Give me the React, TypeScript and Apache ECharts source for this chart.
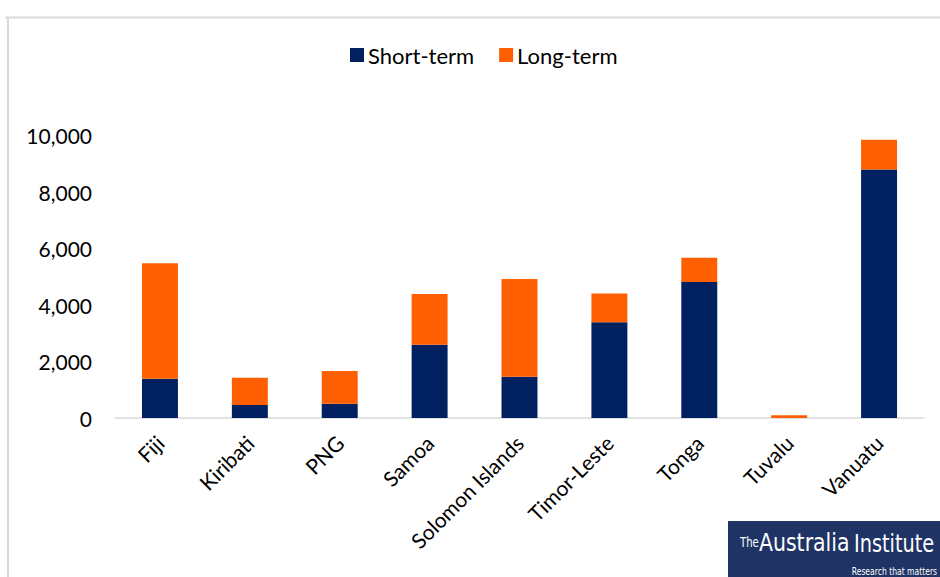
import React, { useEffect, useRef } from "react";
import * as echarts from "echarts";

const countries = ["Fiji", "Kiribati", "PNG", "Samoa", "Solomon Islands", "Timor-Leste", "Tonga", "Tuvalu", "Vanuatu"];
const shortTerm = [1390, 460, 505, 2590, 1460, 3390, 4810, 0, 8800];
const longTerm = [4090, 965, 1155, 1800, 3460, 1015, 860, 95, 1050];
const yTicks = [0, 2000, 4000, 6000, 8000, 10000];

const FONT = "Lato, 'Noto Sans', sans-serif";
const LOGO_FONT = "'DejaVu Sans Condensed', 'Liberation Sans Narrow', sans-serif";
const NAVY = "#002060";
const ORANGE = "#FF5F00";

export default function App() {
  const ref = useRef<HTMLDivElement>(null);

  useEffect(() => {
    if (!ref.current) return;
    const chart = echarts.init(ref.current, null, { renderer: "svg" });
    chart.setOption({
      animation: false,
      backgroundColor: "#ffffff",
      legend: {
        top: 39,
        left: 345,
        itemWidth: 14,
        itemHeight: 14,
        itemGap: 25,
        icon: "rect",
        textStyle: { fontFamily: FONT, fontSize: 22, color: "#000", padding: [0, 0, 0, -1] },
        data: ["Short-term", "Long-term"],
      },
      grid: { left: 115, right: 16, top: 135.5, height: 282.5, containLabel: false },
      xAxis: {
        type: "category",
        data: countries,
        axisLine: { lineStyle: { color: "#d9d9d9", width: 1.5 } },
        axisTick: { show: false },
        axisLabel: {
          rotate: 45,
          margin: 21,
          interval: 0,
          fontFamily: FONT,
          fontSize: 21,
          color: "#000",
        },
      },
      yAxis: {
        type: "value",
        min: yTicks[0],
        max: yTicks[yTicks.length - 1],
        interval: 2000,
        axisLine: { show: false },
        axisTick: { show: false },
        splitLine: { show: false },
        axisLabel: {
          margin: 23,
          fontFamily: FONT,
          fontSize: 21,
          color: "#000",
          formatter: (v: number) => v.toLocaleString("en-US"),
        },
      },
      series: [
        {
          name: "Short-term",
          type: "bar",
          stack: "total",
          data: shortTerm,
          barWidth: "40%",
          itemStyle: { color: NAVY },
        },
        {
          name: "Long-term",
          type: "bar",
          stack: "total",
          data: longTerm,
          barWidth: "40%",
          itemStyle: { color: ORANGE },
        },
      ],
      graphic: [
        { type: "line", shape: { x1: 5, y1: 17.5, x2: 940, y2: 17.5 }, style: { stroke: "#d9d9d9", lineWidth: 2 } },
        { type: "line", shape: { x1: 8, y1: 17.5, x2: 8, y2: 577 }, style: { stroke: "#d9d9d9", lineWidth: 2 } },
        {
          type: "group",
          left: 728,
          top: 521,
          children: [
            { type: "rect", shape: { x: 0, y: 0, width: 212, height: 56 }, style: { fill: "#1f3465" } },
            {
              type: "text",
              x: 12,
              y: 14,
              scaleX: 0.8,
              style: { text: "The", fill: "#fff", fontFamily: LOGO_FONT, fontSize: 14 },
            },
            {
              type: "text",
              x: 31,
              y: 9,
              scaleX: 0.91,
              style: { text: "Australia", fill: "#fff", fontFamily: LOGO_FONT, fontSize: 25 },
            },
            {
              type: "text",
              x: 126,
              y: 9,
              scaleX: 0.86,
              style: { text: "Institute", fill: "#fff", fontFamily: LOGO_FONT, fontSize: 25 },
            },
            {
              type: "text",
              x: 209,
              y: 45,
              scaleX: 0.85,
              style: { text: "Research that matters", fill: "#fff", fontFamily: LOGO_FONT, fontSize: 10, align: "right" },
            },
          ],
        },
      ],
    });
    return () => chart.dispose();
  }, []);

  return <div ref={ref} style={{ position: "fixed", left: 0, top: 0, width: 940, height: 577 }} />;
}
